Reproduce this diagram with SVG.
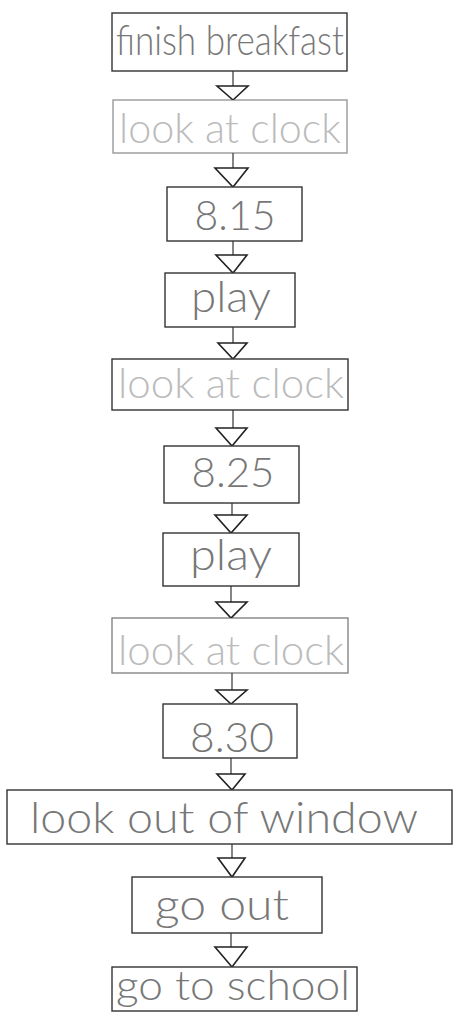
<svg xmlns="http://www.w3.org/2000/svg" width="454" height="1019" viewBox="0 0 454 1019">
<style>
.b{fill:#fff;stroke:#333;stroke-width:1.4}
.t{font-family:Lato,"Liberation Sans",sans-serif;font-weight:300;fill:#777}
.f{fill:#bbb}
.c line{stroke:#333;stroke-width:1.2}
.c polygon{fill:#fff;stroke:#222;stroke-width:1.6;stroke-linejoin:miter}
</style>
<rect width="454" height="1019" fill="#fff"/>
<g class="c" id="connectors">
<line x1="233" y1="71" x2="233" y2="86"/><polygon points="217,86 248,86 233,100"/>
<line x1="233" y1="153" x2="233" y2="168"/><polygon points="215,168 248,168 233,187"/>
<line x1="233" y1="241" x2="233" y2="255"/><polygon points="216,255 247,255 233,273"/>
<line x1="233" y1="327" x2="233" y2="343"/><polygon points="218,343 247,343 233,359"/>
<line x1="233" y1="410" x2="233" y2="428"/><polygon points="216,428 247,428 232,446"/>
<line x1="232" y1="503" x2="232" y2="515"/><polygon points="215,515 247,515 231,533"/>
<line x1="231" y1="586" x2="231" y2="602"/><polygon points="216,602 247,602 231,618"/>
<line x1="232" y1="673" x2="232" y2="690"/><polygon points="216,690 247,690 231,704"/>
<line x1="231" y1="758" x2="231" y2="774"/><polygon points="217,774 245,774 232,790"/>
<line x1="232" y1="844" x2="232" y2="858"/><polygon points="218,858 245,858 232,877"/>
<line x1="231" y1="933" x2="231" y2="947"/><polygon points="215,947 247,947 232,967"/>
</g>
<g id="n1"><rect class="b" x="112" y="13" width="235" height="58"/><text class="t" x="230" y="55" text-anchor="middle" font-size="42" textLength="228" lengthAdjust="spacingAndGlyphs">finish breakfast</text></g>
<g id="n2"><rect class="b" x="113" y="100" width="234" height="53" stroke-opacity="0.5"/><text class="t f" x="230" y="143" text-anchor="middle" font-size="42" textLength="222" lengthAdjust="spacingAndGlyphs">look at clock</text></g>
<g id="n3"><rect class="b" x="167" y="187" width="135" height="54"/><text class="t" x="235" y="230" text-anchor="middle" font-size="41" textLength="81" lengthAdjust="spacingAndGlyphs">8.15</text></g>
<g id="n4"><rect class="b" x="165" y="273" width="130" height="54"/><text class="t" x="231" y="312" text-anchor="middle" font-size="44" textLength="80" lengthAdjust="spacingAndGlyphs">play</text></g>
<g id="n5"><rect class="b" x="112" y="359" width="236" height="51"/><text class="t f" x="231" y="398" text-anchor="middle" font-size="42" textLength="226" lengthAdjust="spacingAndGlyphs">look at clock</text></g>
<g id="n6"><rect class="b" x="164" y="446" width="135" height="57"/><text class="t" x="233" y="487" text-anchor="middle" font-size="41" textLength="83" lengthAdjust="spacingAndGlyphs">8.25</text></g>
<g id="n7"><rect class="b" x="163" y="533" width="136" height="53"/><text class="t" x="231" y="570" text-anchor="middle" font-size="44" textLength="82" lengthAdjust="spacingAndGlyphs">play</text></g>
<g id="n8"><rect class="b" x="112" y="618" width="236" height="55" stroke-opacity="0.6"/><text class="t f" x="231" y="665" text-anchor="middle" font-size="42" textLength="226" lengthAdjust="spacingAndGlyphs">look at clock</text></g>
<g id="n9"><rect class="b" x="163" y="704" width="134" height="54"/><text class="t" x="232" y="752" text-anchor="middle" font-size="41" textLength="84" lengthAdjust="spacingAndGlyphs">8.30</text></g>
<g id="n10"><rect class="b" x="7" y="790" width="445" height="54"/><text class="t" x="224" y="833" text-anchor="middle" font-size="43" textLength="388" lengthAdjust="spacingAndGlyphs">look out of window</text></g>
<g id="n11"><rect class="b" x="132" y="877" width="190" height="56"/><text class="t" x="222" y="920" text-anchor="middle" font-size="44" textLength="134" lengthAdjust="spacingAndGlyphs">go out</text></g>
<g id="n12"><rect class="b" x="112" y="967" width="245" height="44"/><text class="t" x="233" y="1000" text-anchor="middle" font-size="42" textLength="234" lengthAdjust="spacingAndGlyphs">go to school</text></g>
</svg>
